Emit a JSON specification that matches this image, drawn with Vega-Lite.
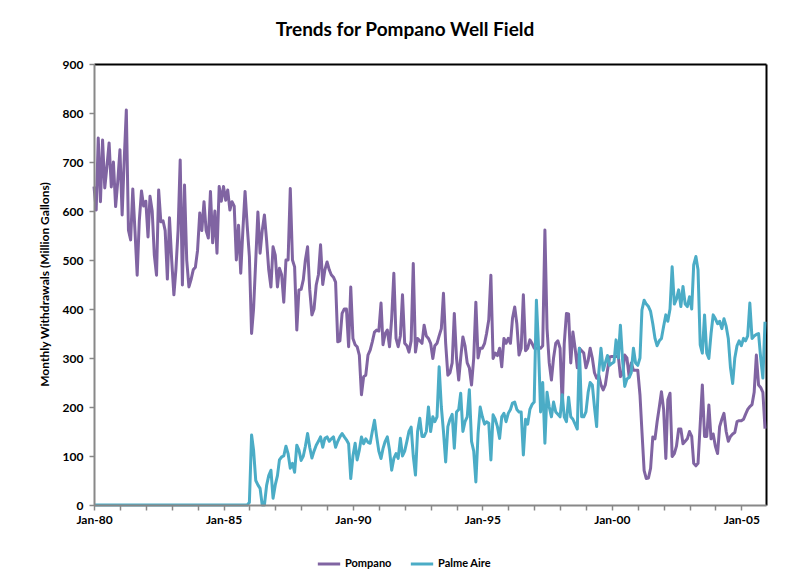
{
"$schema":"https://vega.github.io/schema/vega-lite/v6.json",
"width":672,"height":441,
"autosize":{"type":"none"},
"padding":{"left":94,"top":64,"right":27,"bottom":76},
"background":"white",
"title":{"text":"Trends for Pompano Well Field","font":"Lato","fontSize":19,"fontWeight":"bold","color":"black","anchor":"middle","dx":-25,"offset":18},
"data":{"values":[
{"d":"1980-01","Pompano":650,"Palme Aire":0},{"d":"1980-02","Pompano":602,"Palme Aire":0},{"d":"1980-03","Pompano":749,"Palme Aire":0},{"d":"1980-04","Pompano":619,"Palme Aire":0},{"d":"1980-05","Pompano":745,"Palme Aire":0},{"d":"1980-06","Pompano":647,"Palme Aire":0},{"d":"1980-07","Pompano":690,"Palme Aire":0},{"d":"1980-08","Pompano":739,"Palme Aire":0},{"d":"1980-09","Pompano":649,"Palme Aire":0},{"d":"1980-10","Pompano":700,"Palme Aire":0},{"d":"1980-11","Pompano":609,"Palme Aire":0},{"d":"1980-12","Pompano":660,"Palme Aire":0},
{"d":"1981-01","Pompano":725,"Palme Aire":0},{"d":"1981-02","Pompano":592,"Palme Aire":0},{"d":"1981-03","Pompano":700,"Palme Aire":0},{"d":"1981-04","Pompano":806,"Palme Aire":0},{"d":"1981-05","Pompano":561,"Palme Aire":0},{"d":"1981-06","Pompano":541,"Palme Aire":0},{"d":"1981-07","Pompano":645,"Palme Aire":0},{"d":"1981-08","Pompano":560,"Palme Aire":0},{"d":"1981-09","Pompano":469,"Palme Aire":0},{"d":"1981-10","Pompano":580,"Palme Aire":0},{"d":"1981-11","Pompano":641,"Palme Aire":0},{"d":"1981-12","Pompano":610,"Palme Aire":0},
{"d":"1982-01","Pompano":620,"Palme Aire":0},{"d":"1982-02","Pompano":547,"Palme Aire":0},{"d":"1982-03","Pompano":630,"Palme Aire":0},{"d":"1982-04","Pompano":600,"Palme Aire":0},{"d":"1982-05","Pompano":510,"Palme Aire":0},{"d":"1982-06","Pompano":469,"Palme Aire":0},{"d":"1982-07","Pompano":643,"Palme Aire":0},{"d":"1982-08","Pompano":578,"Palme Aire":0},{"d":"1982-09","Pompano":580,"Palme Aire":0},{"d":"1982-10","Pompano":560,"Palme Aire":0},{"d":"1982-11","Pompano":461,"Palme Aire":0},{"d":"1982-12","Pompano":586,"Palme Aire":0},
{"d":"1983-01","Pompano":500,"Palme Aire":0},{"d":"1983-02","Pompano":429,"Palme Aire":0},{"d":"1983-03","Pompano":480,"Palme Aire":0},{"d":"1983-04","Pompano":560,"Palme Aire":0},{"d":"1983-05","Pompano":704,"Palme Aire":0},{"d":"1983-06","Pompano":449,"Palme Aire":0},{"d":"1983-07","Pompano":653,"Palme Aire":0},{"d":"1983-08","Pompano":500,"Palme Aire":0},{"d":"1983-09","Pompano":445,"Palme Aire":0},{"d":"1983-10","Pompano":460,"Palme Aire":0},{"d":"1983-11","Pompano":480,"Palme Aire":0},{"d":"1983-12","Pompano":485,"Palme Aire":0},
{"d":"1984-01","Pompano":520,"Palme Aire":0},{"d":"1984-02","Pompano":596,"Palme Aire":0},{"d":"1984-03","Pompano":560,"Palme Aire":0},{"d":"1984-04","Pompano":619,"Palme Aire":0},{"d":"1984-05","Pompano":560,"Palme Aire":0},{"d":"1984-06","Pompano":545,"Palme Aire":0},{"d":"1984-07","Pompano":640,"Palme Aire":0},{"d":"1984-08","Pompano":535,"Palme Aire":0},{"d":"1984-09","Pompano":600,"Palme Aire":0},{"d":"1984-10","Pompano":514,"Palme Aire":0},{"d":"1984-11","Pompano":650,"Palme Aire":0},{"d":"1984-12","Pompano":620,"Palme Aire":0},
{"d":"1985-01","Pompano":650,"Palme Aire":0},{"d":"1985-02","Pompano":622,"Palme Aire":0},{"d":"1985-03","Pompano":643,"Palme Aire":0},{"d":"1985-04","Pompano":602,"Palme Aire":0},{"d":"1985-05","Pompano":619,"Palme Aire":0},{"d":"1985-06","Pompano":610,"Palme Aire":0},{"d":"1985-07","Pompano":500,"Palme Aire":0},{"d":"1985-08","Pompano":571,"Palme Aire":0},{"d":"1985-09","Pompano":473,"Palme Aire":0},{"d":"1985-10","Pompano":560,"Palme Aire":0},{"d":"1985-11","Pompano":640,"Palme Aire":0},{"d":"1985-12","Pompano":570,"Palme Aire":0},
{"d":"1986-01","Pompano":507,"Palme Aire":5},{"d":"1986-02","Pompano":350,"Palme Aire":143},{"d":"1986-03","Pompano":400,"Palme Aire":112},{"d":"1986-04","Pompano":500,"Palme Aire":50},{"d":"1986-05","Pompano":598,"Palme Aire":41},{"d":"1986-06","Pompano":514,"Palme Aire":34},{"d":"1986-07","Pompano":560,"Palme Aire":0},{"d":"1986-08","Pompano":592,"Palme Aire":0},{"d":"1986-09","Pompano":540,"Palme Aire":40},{"d":"1986-10","Pompano":480,"Palme Aire":60},{"d":"1986-11","Pompano":445,"Palme Aire":71},{"d":"1986-12","Pompano":527,"Palme Aire":14},
{"d":"1987-01","Pompano":510,"Palme Aire":41},{"d":"1987-02","Pompano":445,"Palme Aire":60},{"d":"1987-03","Pompano":483,"Palme Aire":92},{"d":"1987-04","Pompano":470,"Palme Aire":98},{"d":"1987-05","Pompano":414,"Palme Aire":100},{"d":"1987-06","Pompano":500,"Palme Aire":120},{"d":"1987-07","Pompano":500,"Palme Aire":105},{"d":"1987-08","Pompano":646,"Palme Aire":75},{"d":"1987-09","Pompano":500,"Palme Aire":85},{"d":"1987-10","Pompano":486,"Palme Aire":67},{"d":"1987-11","Pompano":357,"Palme Aire":122},{"d":"1987-12","Pompano":439,"Palme Aire":112},
{"d":"1988-01","Pompano":440,"Palme Aire":91},{"d":"1988-02","Pompano":460,"Palme Aire":100},{"d":"1988-03","Pompano":500,"Palme Aire":120},{"d":"1988-04","Pompano":527,"Palme Aire":146},{"d":"1988-05","Pompano":440,"Palme Aire":118},{"d":"1988-06","Pompano":388,"Palme Aire":96},{"d":"1988-07","Pompano":400,"Palme Aire":110},{"d":"1988-08","Pompano":449,"Palme Aire":122},{"d":"1988-09","Pompano":470,"Palme Aire":130},{"d":"1988-10","Pompano":531,"Palme Aire":139},{"d":"1988-11","Pompano":450,"Palme Aire":118},{"d":"1988-12","Pompano":480,"Palme Aire":136},
{"d":"1989-01","Pompano":496,"Palme Aire":139},{"d":"1989-02","Pompano":480,"Palme Aire":130},{"d":"1989-03","Pompano":470,"Palme Aire":135},{"d":"1989-04","Pompano":465,"Palme Aire":139},{"d":"1989-05","Pompano":455,"Palme Aire":118},{"d":"1989-06","Pompano":333,"Palme Aire":130},{"d":"1989-07","Pompano":335,"Palme Aire":139},{"d":"1989-08","Pompano":391,"Palme Aire":146},{"d":"1989-09","Pompano":400,"Palme Aire":139},{"d":"1989-10","Pompano":400,"Palme Aire":133},{"d":"1989-11","Pompano":323,"Palme Aire":125},{"d":"1989-12","Pompano":445,"Palme Aire":54},
{"d":"1990-01","Pompano":340,"Palme Aire":100},{"d":"1990-02","Pompano":327,"Palme Aire":126},{"d":"1990-03","Pompano":323,"Palme Aire":92},{"d":"1990-04","Pompano":306,"Palme Aire":112},{"d":"1990-05","Pompano":225,"Palme Aire":139},{"d":"1990-06","Pompano":262,"Palme Aire":125},{"d":"1990-07","Pompano":265,"Palme Aire":135},{"d":"1990-08","Pompano":306,"Palme Aire":128},{"d":"1990-09","Pompano":316,"Palme Aire":126},{"d":"1990-10","Pompano":333,"Palme Aire":150},{"d":"1990-11","Pompano":353,"Palme Aire":173},{"d":"1990-12","Pompano":357,"Palme Aire":140},
{"d":"1991-01","Pompano":355,"Palme Aire":110},{"d":"1991-02","Pompano":412,"Palme Aire":95},{"d":"1991-03","Pompano":327,"Palme Aire":115},{"d":"1991-04","Pompano":350,"Palme Aire":130},{"d":"1991-05","Pompano":357,"Palme Aire":139},{"d":"1991-06","Pompano":323,"Palme Aire":112},{"d":"1991-07","Pompano":380,"Palme Aire":71},{"d":"1991-08","Pompano":473,"Palme Aire":95},{"d":"1991-09","Pompano":340,"Palme Aire":105},{"d":"1991-10","Pompano":323,"Palme Aire":95},{"d":"1991-11","Pompano":345,"Palme Aire":136},{"d":"1991-12","Pompano":429,"Palme Aire":100},
{"d":"1992-01","Pompano":330,"Palme Aire":110},{"d":"1992-02","Pompano":325,"Palme Aire":130},{"d":"1992-03","Pompano":312,"Palme Aire":150},{"d":"1992-04","Pompano":335,"Palme Aire":159},{"d":"1992-05","Pompano":493,"Palme Aire":100},{"d":"1992-06","Pompano":312,"Palme Aire":61},{"d":"1992-07","Pompano":340,"Palme Aire":150},{"d":"1992-08","Pompano":335,"Palme Aire":177},{"d":"1992-09","Pompano":330,"Palme Aire":140},{"d":"1992-10","Pompano":367,"Palme Aire":140},{"d":"1992-11","Pompano":345,"Palme Aire":150},{"d":"1992-12","Pompano":340,"Palme Aire":200},
{"d":"1993-01","Pompano":330,"Palme Aire":150},{"d":"1993-02","Pompano":299,"Palme Aire":180},{"d":"1993-03","Pompano":325,"Palme Aire":170},{"d":"1993-04","Pompano":330,"Palme Aire":180},{"d":"1993-05","Pompano":345,"Palme Aire":282},{"d":"1993-06","Pompano":360,"Palme Aire":200},{"d":"1993-07","Pompano":432,"Palme Aire":150},{"d":"1993-08","Pompano":330,"Palme Aire":88},{"d":"1993-09","Pompano":265,"Palme Aire":160},{"d":"1993-10","Pompano":270,"Palme Aire":175},{"d":"1993-11","Pompano":290,"Palme Aire":185},{"d":"1993-12","Pompano":391,"Palme Aire":116},
{"d":"1994-01","Pompano":300,"Palme Aire":190},{"d":"1994-02","Pompano":255,"Palme Aire":195},{"d":"1994-03","Pompano":300,"Palme Aire":228},{"d":"1994-04","Pompano":343,"Palme Aire":150},{"d":"1994-05","Pompano":325,"Palme Aire":170},{"d":"1994-06","Pompano":290,"Palme Aire":180},{"d":"1994-07","Pompano":280,"Palme Aire":235},{"d":"1994-08","Pompano":245,"Palme Aire":130},{"d":"1994-09","Pompano":300,"Palme Aire":110},{"d":"1994-10","Pompano":414,"Palme Aire":47},{"d":"1994-11","Pompano":300,"Palme Aire":145},{"d":"1994-12","Pompano":320,"Palme Aire":200},
{"d":"1995-01","Pompano":320,"Palme Aire":180},{"d":"1995-02","Pompano":330,"Palme Aire":165},{"d":"1995-03","Pompano":350,"Palme Aire":170},{"d":"1995-04","Pompano":378,"Palme Aire":167},{"d":"1995-05","Pompano":469,"Palme Aire":92},{"d":"1995-06","Pompano":299,"Palme Aire":184},{"d":"1995-07","Pompano":310,"Palme Aire":175},{"d":"1995-08","Pompano":305,"Palme Aire":160},{"d":"1995-09","Pompano":320,"Palme Aire":136},{"d":"1995-10","Pompano":282,"Palme Aire":180},{"d":"1995-11","Pompano":340,"Palme Aire":187},{"d":"1995-12","Pompano":330,"Palme Aire":170},
{"d":"1996-01","Pompano":340,"Palme Aire":187},{"d":"1996-02","Pompano":330,"Palme Aire":195},{"d":"1996-03","Pompano":381,"Palme Aire":208},{"d":"1996-04","Pompano":404,"Palme Aire":210},{"d":"1996-05","Pompano":370,"Palme Aire":195},{"d":"1996-06","Pompano":306,"Palme Aire":190},{"d":"1996-07","Pompano":320,"Palme Aire":190},{"d":"1996-08","Pompano":429,"Palme Aire":102},{"d":"1996-09","Pompano":315,"Palme Aire":175},{"d":"1996-10","Pompano":320,"Palme Aire":165},{"d":"1996-11","Pompano":337,"Palme Aire":195},{"d":"1996-12","Pompano":330,"Palme Aire":205},
{"d":"1997-01","Pompano":320,"Palme Aire":210},{"d":"1997-02","Pompano":320,"Palme Aire":418},{"d":"1997-03","Pompano":320,"Palme Aire":330},{"d":"1997-04","Pompano":320,"Palme Aire":190},{"d":"1997-05","Pompano":325,"Palme Aire":250},{"d":"1997-06","Pompano":561,"Palme Aire":126},{"d":"1997-07","Pompano":360,"Palme Aire":230},{"d":"1997-08","Pompano":290,"Palme Aire":200},{"d":"1997-09","Pompano":255,"Palme Aire":180},{"d":"1997-10","Pompano":300,"Palme Aire":210},{"d":"1997-11","Pompano":330,"Palme Aire":190},{"d":"1997-12","Pompano":335,"Palme Aire":185},
{"d":"1998-01","Pompano":320,"Palme Aire":180},{"d":"1998-02","Pompano":201,"Palme Aire":225},{"d":"1998-03","Pompano":330,"Palme Aire":180},{"d":"1998-04","Pompano":391,"Palme Aire":170},{"d":"1998-05","Pompano":390,"Palme Aire":220},{"d":"1998-06","Pompano":290,"Palme Aire":180},{"d":"1998-07","Pompano":353,"Palme Aire":175},{"d":"1998-08","Pompano":320,"Palme Aire":165},{"d":"1998-09","Pompano":280,"Palme Aire":155},{"d":"1998-10","Pompano":320,"Palme Aire":320},{"d":"1998-11","Pompano":315,"Palme Aire":180},{"d":"1998-12","Pompano":310,"Palme Aire":180},
{"d":"1999-01","Pompano":280,"Palme Aire":190},{"d":"1999-02","Pompano":295,"Palme Aire":230},{"d":"1999-03","Pompano":320,"Palme Aire":250},{"d":"1999-04","Pompano":300,"Palme Aire":245},{"d":"1999-05","Pompano":270,"Palme Aire":200},{"d":"1999-06","Pompano":259,"Palme Aire":160},{"d":"1999-07","Pompano":265,"Palme Aire":270},{"d":"1999-08","Pompano":245,"Palme Aire":320},{"d":"1999-09","Pompano":235,"Palme Aire":275},{"d":"1999-10","Pompano":245,"Palme Aire":290},{"d":"1999-11","Pompano":275,"Palme Aire":305},{"d":"1999-12","Pompano":302,"Palme Aire":285},
{"d":"2000-01","Pompano":303,"Palme Aire":289},{"d":"2000-02","Pompano":303,"Palme Aire":292},{"d":"2000-03","Pompano":303,"Palme Aire":337},{"d":"2000-04","Pompano":305,"Palme Aire":300},{"d":"2000-05","Pompano":262,"Palme Aire":367},{"d":"2000-06","Pompano":268,"Palme Aire":295},{"d":"2000-07","Pompano":306,"Palme Aire":242},{"d":"2000-08","Pompano":300,"Palme Aire":257},{"d":"2000-09","Pompano":262,"Palme Aire":260},{"d":"2000-10","Pompano":290,"Palme Aire":270},{"d":"2000-11","Pompano":275,"Palme Aire":320},{"d":"2000-12","Pompano":275,"Palme Aire":290},
{"d":"2001-01","Pompano":275,"Palme Aire":285},{"d":"2001-02","Pompano":225,"Palme Aire":300},{"d":"2001-03","Pompano":150,"Palme Aire":398},{"d":"2001-04","Pompano":70,"Palme Aire":418},{"d":"2001-05","Pompano":54,"Palme Aire":410},{"d":"2001-06","Pompano":55,"Palme Aire":405},{"d":"2001-07","Pompano":75,"Palme Aire":395},{"d":"2001-08","Pompano":139,"Palme Aire":370},{"d":"2001-09","Pompano":135,"Palme Aire":340},{"d":"2001-10","Pompano":170,"Palme Aire":325},{"d":"2001-11","Pompano":200,"Palme Aire":335},{"d":"2001-12","Pompano":231,"Palme Aire":340},
{"d":"2002-01","Pompano":195,"Palme Aire":365},{"d":"2002-02","Pompano":95,"Palme Aire":388},{"d":"2002-03","Pompano":215,"Palme Aire":375},{"d":"2002-04","Pompano":228,"Palme Aire":400},{"d":"2002-05","Pompano":99,"Palme Aire":486},{"d":"2002-06","Pompano":105,"Palme Aire":410},{"d":"2002-07","Pompano":120,"Palme Aire":420},{"d":"2002-08","Pompano":155,"Palme Aire":439},{"d":"2002-09","Pompano":155,"Palme Aire":405},{"d":"2002-10","Pompano":125,"Palme Aire":446},{"d":"2002-11","Pompano":130,"Palme Aire":410},{"d":"2002-12","Pompano":135,"Palme Aire":405},
{"d":"2003-01","Pompano":150,"Palme Aire":425},{"d":"2003-02","Pompano":140,"Palme Aire":400},{"d":"2003-03","Pompano":85,"Palme Aire":490},{"d":"2003-04","Pompano":80,"Palme Aire":507},{"d":"2003-05","Pompano":85,"Palme Aire":480},{"d":"2003-06","Pompano":165,"Palme Aire":327},{"d":"2003-07","Pompano":245,"Palme Aire":310},{"d":"2003-08","Pompano":140,"Palme Aire":388},{"d":"2003-09","Pompano":140,"Palme Aire":310},{"d":"2003-10","Pompano":204,"Palme Aire":299},{"d":"2003-11","Pompano":135,"Palme Aire":350},{"d":"2003-12","Pompano":145,"Palme Aire":388},
{"d":"2004-01","Pompano":120,"Palme Aire":380},{"d":"2004-02","Pompano":105,"Palme Aire":370},{"d":"2004-03","Pompano":160,"Palme Aire":375},{"d":"2004-04","Pompano":175,"Palme Aire":360},{"d":"2004-05","Pompano":187,"Palme Aire":380},{"d":"2004-06","Pompano":150,"Palme Aire":365},{"d":"2004-07","Pompano":130,"Palme Aire":340},{"d":"2004-08","Pompano":140,"Palme Aire":280},{"d":"2004-09","Pompano":145,"Palme Aire":248},{"d":"2004-10","Pompano":148,"Palme Aire":300},{"d":"2004-11","Pompano":170,"Palme Aire":325},{"d":"2004-12","Pompano":172,"Palme Aire":335},
{"d":"2005-01","Pompano":172,"Palme Aire":325},{"d":"2005-02","Pompano":175,"Palme Aire":340},{"d":"2005-03","Pompano":185,"Palme Aire":335},{"d":"2005-04","Pompano":195,"Palme Aire":345},{"d":"2005-05","Pompano":201,"Palme Aire":412},{"d":"2005-06","Pompano":205,"Palme Aire":340},{"d":"2005-07","Pompano":230,"Palme Aire":345},{"d":"2005-08","Pompano":306,"Palme Aire":348},{"d":"2005-09","Pompano":245,"Palme Aire":350},{"d":"2005-10","Pompano":240,"Palme Aire":300},{"d":"2005-11","Pompano":230,"Palme Aire":259},{"d":"2005-12","Pompano":156,"Palme Aire":374}
]},
"transform":[{"fold":["Pompano","Palme Aire"],"as":["series","value"]}],
"layer":[
{
"mark":{"type":"line","strokeWidth":3,"strokeJoin":"round"},
"encoding":{
"x":{"field":"d","type":"temporal","scale":{"type":"utc","domain":[{"year":1980,"month":1,"date":1,"utc":true},{"year":2005,"month":12,"date":15,"utc":true}]},
"axis":{"title":null,"orient":"bottom","tickCount":{"interval":"year","step":1},"labelExpr":"utcyear(datum.value) % 5 == 0 ? utcFormat(datum.value, '%b-%y') : ''","labelOverlap":false,"labelFlush":false,"labelFont":"Lato","labelFontWeight":"bold","labelFontSize":12,"labelColor":"black","labelPadding":4,"domainColor":"#888888","domainWidth":2,"tickColor":"#888888","tickWidth":1.5,"tickSize":5,"grid":false,"zindex":1}},
"y":{"field":"value","type":"quantitative","scale":{"domain":[0,900],"nice":false},
"axis":{"title":"Monthly Withdrawals (Million Gallons)","titleFont":"Lato","titleFontWeight":"bold","titleFontSize":12,"titleColor":"black","titleX":-50,"titleY":220,"titleAngle":-90,"titleAlign":"center","titleBaseline":"middle","values":[0,100,200,300,400,500,600,700,800,900],"labelFont":"Lato","labelFontWeight":"bold","labelFontSize":12,"labelColor":"black","labelPadding":6,"domainColor":"#888888","domainWidth":2,"tickColor":"#888888","tickWidth":1.5,"tickSize":5,"grid":false,"zindex":1}},
"color":{"field":"series","type":"nominal","scale":{"domain":["Pompano","Palme Aire"],"range":["#8064A2","#4BACC6"]},
"legend":{"title":null,"orient":"none","legendX":222,"legendY":487,"direction":"horizontal","symbolType":"stroke","symbolStrokeWidth":3,"symbolSize":500,"labelFont":"Lato","labelFontWeight":"bold","labelFontSize":11,"labelColor":"black","labelOffset":3,"columnPadding":12}}
}
},
{
"mark":{"type":"line","opacity":0},
"encoding":{
"x":{"field":"d","type":"temporal","axis":{"orient":"top","title":null,"labels":false,"ticks":false,"grid":false,"domainColor":"black","domainWidth":2}},
"y":{"field":"value","type":"quantitative","axis":{"orient":"right","title":null,"labels":false,"ticks":false,"grid":false,"domainColor":"black","domainWidth":2}}
}
}
],
"resolve":{"axis":{"x":"independent","y":"independent"}},
"config":{"view":{"stroke":null}}
}
